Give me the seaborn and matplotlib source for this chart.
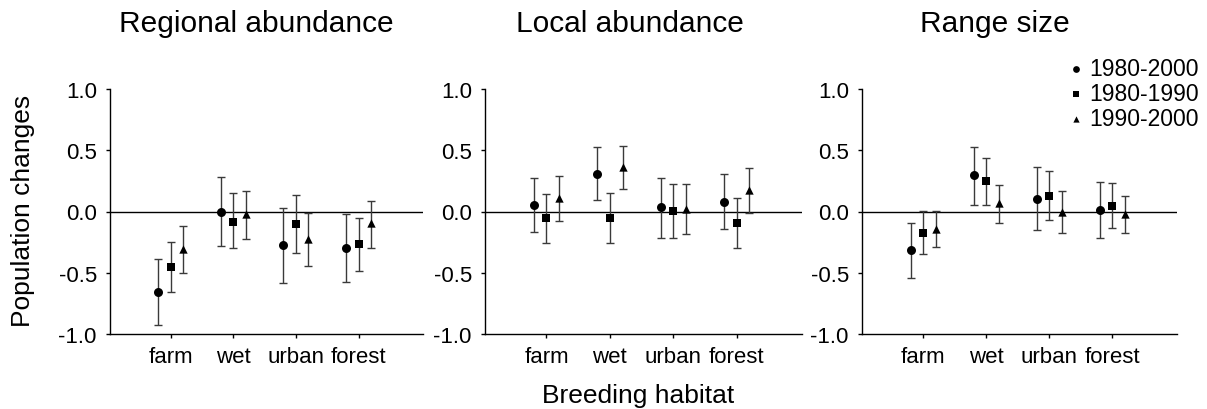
import numpy as np
import pandas as pd
import matplotlib
matplotlib.use("Agg")
import matplotlib.pyplot as plt
import seaborn as sns

# ---- data ----
habitats = ["farm", "wet", "urban", "forest"]
periods = ["1980-2000", "1980-1990", "1990-2000"]
panel_titles = ["Regional abundance", "Local abundance", "Range size"]

# Regional abundance
reg_mean_8000 = [-0.66, 0.0, -0.275, -0.302]
reg_lo_8000 = [-0.925, -0.283, -0.582, -0.577]
reg_hi_8000 = [-0.39, 0.28, 0.03, -0.024]
reg_mean_8090 = [-0.457, -0.082, -0.10, -0.267]
reg_lo_8090 = [-0.66, -0.302, -0.335, -0.487]
reg_hi_8090 = [-0.245, 0.147, 0.136, -0.049]
reg_mean_9000 = [-0.307, -0.02, -0.226, -0.095]
reg_lo_9000 = [-0.50, -0.226, -0.446, -0.30]
reg_hi_9000 = [-0.12, 0.166, -0.016, 0.087]

# Local abundance
loc_mean_8000 = [0.054, 0.31, 0.035, 0.079]
loc_lo_8000 = [-0.169, 0.09, -0.215, -0.144]
loc_hi_8000 = [0.272, 0.528, 0.277, 0.307]
loc_mean_8090 = [-0.057, -0.054, 0.003, -0.093]
loc_lo_8090 = [-0.256, -0.258, -0.215, -0.297]
loc_hi_8090 = [0.144, 0.152, 0.226, 0.114]
loc_mean_9000 = [0.109, 0.362, 0.024, 0.174]
loc_lo_9000 = [-0.076, 0.18, -0.18, -0.016]
loc_hi_9000 = [0.288, 0.536, 0.226, 0.354]

# Range size
rng_mean_8000 = [-0.313, 0.294, 0.103, 0.011]
rng_lo_8000 = [-0.539, 0.057, -0.155, -0.22]
rng_hi_8000 = [-0.095, 0.528, 0.362, 0.242]
rng_mean_8090 = [-0.174, 0.248, 0.128, 0.046]
rng_lo_8090 = [-0.351, 0.057, -0.073, -0.136]
rng_hi_8090 = [0.005, 0.438, 0.332, 0.234]
rng_mean_9000 = [-0.139, 0.068, 0.0, -0.024]
rng_lo_9000 = [-0.288, -0.093, -0.174, -0.174]
rng_hi_9000 = [0.005, 0.22, 0.169, 0.13]

yticks = [-1.0, -0.5, 0.0, 0.5, 1.0]
ytick_labels = ["-1.0", "-0.5", "0.0", "0.5", "1.0"]

# ---- build long table ----
series = {
    panel_titles[0]: [(reg_mean_8000, reg_lo_8000, reg_hi_8000),
                      (reg_mean_8090, reg_lo_8090, reg_hi_8090),
                      (reg_mean_9000, reg_lo_9000, reg_hi_9000)],
    panel_titles[1]: [(loc_mean_8000, loc_lo_8000, loc_hi_8000),
                      (loc_mean_8090, loc_lo_8090, loc_hi_8090),
                      (loc_mean_9000, loc_lo_9000, loc_hi_9000)],
    panel_titles[2]: [(rng_mean_8000, rng_lo_8000, rng_hi_8000),
                      (rng_mean_8090, rng_lo_8090, rng_hi_8090),
                      (rng_mean_9000, rng_lo_9000, rng_hi_9000)],
}
rows = []
for panel, lst in series.items():
    for pi, (m, lo, hi) in enumerate(lst):
        for hi_idx, h in enumerate(habitats):
            rows.append(dict(panel=panel, period=periods[pi], habitat=h,
                             hab_idx=hi_idx, per_idx=pi,
                             mean=m[hi_idx], lo=lo[hi_idx], hi=hi[hi_idx]))
df = pd.DataFrame(rows)
offsets = {0: -0.2, 1: 0.0, 2: 0.2}
df["pos"] = df["hab_idx"] + 1 + df["per_idx"].map(offsets)

# ---- style ----
sns.set_style("ticks")
plt.rcParams["font.family"] = ["Liberation Sans", "DejaVu Sans"]
plt.rcParams["axes.linewidth"] = 1.0
plt.rcParams["text.color"] = "black"
plt.rcParams["axes.labelcolor"] = "black"
plt.rcParams["xtick.color"] = "black"
plt.rcParams["ytick.color"] = "black"

W, H = 1207, 410
fig = plt.figure(figsize=(W / 100, H / 100), dpi=100)

axes_px = [(110, 423), (485, 802), (862, 1177)]
top_px, bot_px = 90, 335
markers = {0: ("o", 42), 1: ("s", 30), 2: ("^", 36)}

axes = []
for k, panel in enumerate(panel_titles):
    l, r = axes_px[k]
    ax = fig.add_axes([l / W, 1 - bot_px / H, (r - l) / W, (bot_px - top_px) / H])
    axes.append(ax)
    sub = df[df["panel"] == panel]
    ax.axhline(0, color="black", lw=1.0, zorder=1)
    for pi in range(3):
        s = sub[sub["per_idx"] == pi]
        ax.errorbar(s["pos"], s["mean"],
                    yerr=[s["mean"] - s["lo"], s["hi"] - s["mean"]],
                    fmt="none", ecolor="#3a3a3a", elinewidth=1.0,
                    capsize=3, capthick=1.0, zorder=2)
        mk, sz = markers[pi]
        sns.scatterplot(data=s, x="pos", y="mean", marker=mk, s=sz,
                        color="black", edgecolor="black", linewidth=0,
                        ax=ax, zorder=3, label=periods[pi])
    ax.set_xlim(0.03, 5.03)
    ax.set_ylim(-1.0, 1.0)
    ax.set_xticks([1, 2, 3, 4])
    ax.set_xticklabels(habitats)
    ax.set_yticks(yticks)
    ax.set_yticklabels(ytick_labels)
    ax.set_xlabel("")
    ax.set_ylabel("")
    ax.tick_params(axis="both", direction="out", length=3, width=1,
                   labelsize=16, colors="black", labelcolor="black")
    ax.tick_params(axis="y", pad=6.5)
    ax.tick_params(axis="x", pad=6)
    sns.despine(ax=ax)
    for sp in ("left", "bottom"):
        ax.spines[sp].set_color("black")
    if k < 2:
        leg = ax.get_legend()
        if leg is not None:
            leg.remove()

# legend on the last panel, in the upper right of the figure
h, lab = axes[2].get_legend_handles_labels()
axes[2].get_legend().remove()
leg = fig.legend(h, lab, loc="upper right", bbox_to_anchor=(1199 / W, 1 - 58 / H),
                 frameon=False, fontsize=16.5, handlelength=0.6, handletextpad=0.3,
                 labelspacing=0.08, borderpad=0, borderaxespad=0, markerscale=0.75)
for t in leg.get_texts():
    t.set_color("black")

# titles
title_x = [256, 630, 995]
for k, t in enumerate(panel_titles):
    fig.text(title_x[k] / W, 1 - 32.5 / H, t, ha="center", va="baseline",
             fontsize=21.5, color="black")

fig.text(23 / W, 1 - 211 / H, "Population changes", rotation=90,
         ha="center", va="center", fontsize=19, color="black")
fig.text(638 / W, 1 - 403 / H, "Breeding habitat", ha="center",
         va="baseline", fontsize=19, color="black")

fig.savefig("out.png", dpi=100)
